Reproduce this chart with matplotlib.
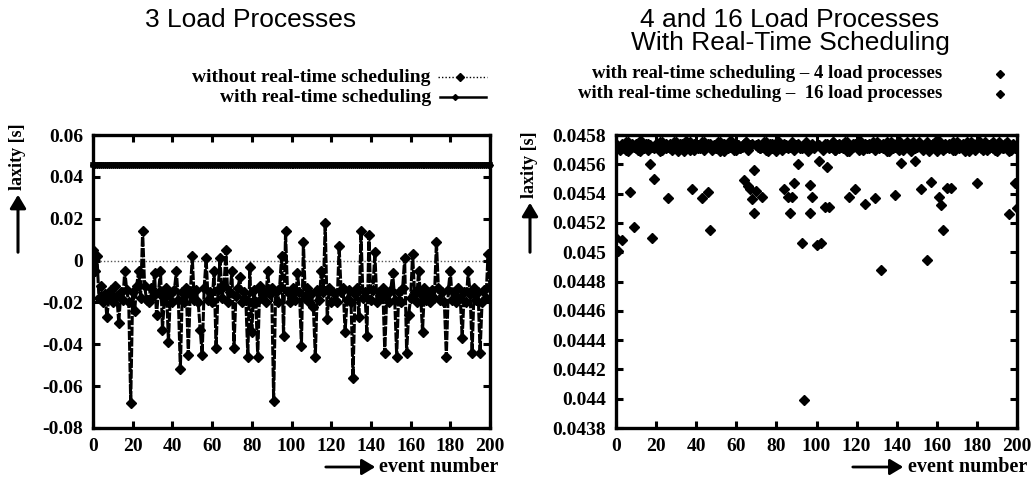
import matplotlib
matplotlib.use("Agg")
import matplotlib.pyplot as plt
from matplotlib.lines import Line2D
from matplotlib.patches import FancyArrowPatch

plt.rcParams['axes.unicode_minus'] = False
plt.rcParams['font.family'] = ['Liberation Serif', 'DejaVu Serif']

# ---------------- data ----------------
events = list(range(201))

# left plot: 3 load processes, without real-time scheduling
no_rt3 = [
    0.005, -0.005, 0.002, -0.018, -0.012, -0.020, -0.016, -0.027, -0.018, -0.014,
    -0.020, -0.012, -0.017, -0.030, -0.015, -0.019, -0.005, -0.014, -0.020, -0.068,
    -0.015, -0.024, -0.012, -0.005, -0.018, 0.014, -0.012, -0.019, -0.020, -0.013,
    -0.017, -0.006, -0.026, -0.015, -0.005, -0.033, -0.018, -0.013, -0.039, -0.016,
    -0.020, -0.014, -0.005, -0.019, -0.052, -0.015, -0.020, -0.013, -0.045, -0.016,
    0.002, -0.019, -0.014, -0.020, -0.033, -0.045, -0.013, 0.001, -0.019, -0.015,
    -0.020, -0.005, -0.042, -0.014, 0.001, -0.018, -0.012, 0.005, -0.020, -0.015,
    -0.005, -0.042, -0.017, -0.013, -0.008, -0.020, -0.015, -0.019, -0.046, -0.003,
    -0.034, -0.014, -0.020, -0.046, -0.012, -0.018, -0.015, -0.020, -0.005, -0.016,
    -0.013, -0.067, -0.015, -0.020, -0.013, 0.002, -0.036, 0.014, -0.015, -0.020,
    -0.018, -0.013, -0.019, -0.006, -0.015, -0.041, 0.009, -0.018, -0.013, -0.020,
    -0.016, -0.022, -0.046, -0.014, -0.019, -0.005, -0.015, 0.018, -0.028, -0.013,
    -0.020, -0.015, -0.019, -0.020, 0.007, -0.015, -0.013, -0.034, -0.019, -0.014,
    -0.020, -0.056, -0.016, -0.013, -0.027, 0.014, -0.018, -0.015, -0.036, 0.012,
    -0.019, -0.014, 0.004, -0.020, -0.015, -0.018, -0.013, -0.044, -0.016, -0.020,
    -0.014, -0.006, -0.019, -0.046, -0.015, -0.020, -0.013, 0.001, -0.044, -0.026,
    -0.018, 0.003, -0.015, -0.020, -0.005, -0.016, -0.034, -0.013, -0.019, -0.015,
    -0.020, -0.014, -0.018, 0.009, -0.013, -0.019, -0.015, -0.020, -0.046, -0.014,
    -0.005, -0.019, -0.015, -0.020, -0.013, -0.018, -0.037, -0.015, -0.020, -0.005,
    -0.016, -0.044, -0.013, -0.019, -0.015, -0.044, -0.020, -0.014, -0.018, 0.003,
    -0.013,
]

# left plot: 3 load processes, with real-time scheduling
rt3 = [
    0.04572, 0.04574, 0.04571, 0.04573, 0.04575, 0.04572, 0.04570, 0.04574, 0.04573, 0.04571,
    0.04572, 0.04575, 0.04573, 0.04570, 0.04574, 0.04572, 0.04571, 0.04573, 0.04575, 0.04572,
    0.04574, 0.04571, 0.04572, 0.04573, 0.04570, 0.04574, 0.04572, 0.04575, 0.04571, 0.04573,
    0.04572, 0.04574, 0.04573, 0.04571, 0.04572, 0.04575, 0.04570, 0.04573, 0.04574, 0.04572,
    0.04571, 0.04573, 0.04575, 0.04572, 0.04574, 0.04570, 0.04572, 0.04573, 0.04571, 0.04574,
    0.04572, 0.04575, 0.04573, 0.04571, 0.04572, 0.04574, 0.04570, 0.04573, 0.04572, 0.04575,
    0.04571, 0.04574, 0.04572, 0.04573, 0.04570, 0.04572, 0.04575, 0.04571, 0.04573, 0.04574,
    0.04572, 0.04571, 0.04573, 0.04575, 0.04572, 0.04570, 0.04574, 0.04573, 0.04571, 0.04572,
    0.04575, 0.04573, 0.04572, 0.04574, 0.04570, 0.04571, 0.04573, 0.04572, 0.04575, 0.04574,
    0.04572, 0.04571, 0.04573, 0.04570, 0.04572, 0.04574, 0.04575, 0.04573, 0.04571, 0.04572,
    0.04574, 0.04572, 0.04571, 0.04573, 0.04575, 0.04572, 0.04570, 0.04574, 0.04573, 0.04571,
    0.04572, 0.04575, 0.04573, 0.04570, 0.04574, 0.04572, 0.04571, 0.04573, 0.04575, 0.04572,
    0.04574, 0.04571, 0.04572, 0.04573, 0.04570, 0.04574, 0.04572, 0.04575, 0.04571, 0.04573,
    0.04572, 0.04574, 0.04573, 0.04571, 0.04572, 0.04575, 0.04570, 0.04573, 0.04574, 0.04572,
    0.04571, 0.04573, 0.04575, 0.04572, 0.04574, 0.04570, 0.04572, 0.04573, 0.04571, 0.04574,
    0.04572, 0.04575, 0.04573, 0.04571, 0.04572, 0.04574, 0.04570, 0.04573, 0.04572, 0.04575,
    0.04571, 0.04574, 0.04572, 0.04573, 0.04570, 0.04572, 0.04575, 0.04571, 0.04573, 0.04574,
    0.04572, 0.04571, 0.04573, 0.04575, 0.04572, 0.04570, 0.04574, 0.04573, 0.04571, 0.04572,
    0.04575, 0.04573, 0.04572, 0.04574, 0.04570, 0.04571, 0.04573, 0.04572, 0.04575, 0.04574,
    0.04572, 0.04571, 0.04573, 0.04570, 0.04572, 0.04574, 0.04575, 0.04573, 0.04571, 0.04572,
    0.04573,
]

# right plot: with real-time scheduling, 4 load processes
rt4 = [
    0.04510, 0.04572, 0.04570, 0.04574, 0.04571, 0.04575, 0.04569, 0.04541, 0.04573, 0.04572,
    0.04574, 0.04570, 0.04576, 0.04572, 0.04571, 0.04573, 0.04574, 0.04560, 0.04572, 0.04550,
    0.04573, 0.04571, 0.04575, 0.04570, 0.04572, 0.04574, 0.04537, 0.04571, 0.04573, 0.04575,
    0.04572, 0.04569, 0.04574, 0.04573, 0.04571, 0.04576, 0.04572, 0.04570, 0.04543, 0.04574,
    0.04573, 0.04571, 0.04572, 0.04575, 0.04570, 0.04573, 0.04574, 0.04515, 0.04572, 0.04571,
    0.04573, 0.04575, 0.04569, 0.04572, 0.04574, 0.04571, 0.04573, 0.04576, 0.04572, 0.04570,
    0.04574, 0.04573, 0.04571, 0.04572, 0.04549, 0.04575, 0.04570, 0.04573, 0.04574, 0.04556,
    0.04542, 0.04572, 0.04571, 0.04538, 0.04573, 0.04575, 0.04569, 0.04572, 0.04574, 0.04571,
    0.04573, 0.04576, 0.04572, 0.04570, 0.04574, 0.04573, 0.04571, 0.04572, 0.04575, 0.04547,
    0.04573, 0.04574, 0.04572, 0.04571, 0.04573, 0.04575, 0.04569, 0.04546, 0.04574, 0.04571,
    0.04573, 0.04562, 0.04572, 0.04570, 0.04574, 0.04558, 0.04571, 0.04572, 0.04575, 0.04570,
    0.04573, 0.04574, 0.04572, 0.04571, 0.04573, 0.04575, 0.04569, 0.04572, 0.04574, 0.04543,
    0.04573, 0.04576, 0.04572, 0.04570, 0.04574, 0.04573, 0.04571, 0.04572, 0.04575, 0.04537,
    0.04573, 0.04574, 0.04572, 0.04571, 0.04573, 0.04575, 0.04569, 0.04572, 0.04574, 0.04539,
    0.04573, 0.04576, 0.04572, 0.04570, 0.04574, 0.04573, 0.04571, 0.04572, 0.04575, 0.04562,
    0.04573, 0.04574, 0.04572, 0.04571, 0.04573, 0.04575, 0.04569, 0.04548, 0.04574, 0.04571,
    0.04573, 0.04576, 0.04572, 0.04570, 0.04574, 0.04544, 0.04571, 0.04572, 0.04575, 0.04570,
    0.04573, 0.04574, 0.04572, 0.04571, 0.04573, 0.04575, 0.04569, 0.04572, 0.04574, 0.04571,
    0.04547, 0.04576, 0.04572, 0.04570, 0.04574, 0.04573, 0.04571, 0.04572, 0.04575, 0.04570,
    0.04573, 0.04574, 0.04572, 0.04571, 0.04573, 0.04575, 0.04569, 0.04572, 0.04574, 0.04547,
    0.04573,
]

# right plot: with real-time scheduling, 16 load processes
rt16 = [
    0.04574, 0.04501, 0.04571, 0.04508, 0.04573, 0.04570, 0.04575, 0.04572, 0.04574, 0.04517,
    0.04571, 0.04573, 0.04569, 0.04575, 0.04572, 0.04574, 0.04570, 0.04573, 0.04510, 0.04571,
    0.04574, 0.04572, 0.04569, 0.04575, 0.04573, 0.04571, 0.04572, 0.04574, 0.04570, 0.04573,
    0.04575, 0.04571, 0.04572, 0.04574, 0.04569, 0.04573, 0.04571, 0.04575, 0.04572, 0.04570,
    0.04574, 0.04573, 0.04571, 0.04537, 0.04575, 0.04572, 0.04541, 0.04574, 0.04570, 0.04573,
    0.04571, 0.04572, 0.04575, 0.04574, 0.04569, 0.04573, 0.04571, 0.04572, 0.04575, 0.04574,
    0.04570, 0.04573, 0.04571, 0.04572, 0.04574, 0.04575, 0.04545, 0.04543, 0.04536, 0.04527,
    0.04573, 0.04574, 0.04571, 0.04572, 0.04575, 0.04570, 0.04573, 0.04574, 0.04571, 0.04572,
    0.04569, 0.04575, 0.04573, 0.04571, 0.04543, 0.04572, 0.04538, 0.04527, 0.04538, 0.04570,
    0.04573, 0.04560, 0.04571, 0.04506, 0.04399, 0.04574, 0.04571, 0.04527, 0.04538, 0.04572,
    0.04505, 0.04573, 0.04506, 0.04571, 0.04531, 0.04574, 0.04531, 0.04572, 0.04575, 0.04570,
    0.04573, 0.04571, 0.04572, 0.04574, 0.04575, 0.04569, 0.04538, 0.04571, 0.04572, 0.04574,
    0.04573, 0.04570, 0.04575, 0.04572, 0.04533, 0.04571, 0.04574, 0.04573, 0.04572, 0.04570,
    0.04575, 0.04571, 0.04488, 0.04574, 0.04572, 0.04569, 0.04573, 0.04575, 0.04571, 0.04572,
    0.04574, 0.04570, 0.04561, 0.04571, 0.04572, 0.04575, 0.04574, 0.04569, 0.04573, 0.04571,
    0.04572, 0.04575, 0.04543, 0.04570, 0.04573, 0.04495, 0.04571, 0.04572, 0.04574, 0.04575,
    0.04569, 0.04538, 0.04532, 0.04515, 0.04571, 0.04572, 0.04574, 0.04544, 0.04570, 0.04573,
    0.04575, 0.04571, 0.04572, 0.04574, 0.04569, 0.04573, 0.04571, 0.04575, 0.04572, 0.04570,
    0.04574, 0.04573, 0.04571, 0.04572, 0.04575, 0.04570, 0.04573, 0.04574, 0.04571, 0.04572,
    0.04569, 0.04575, 0.04573, 0.04571, 0.04574, 0.04572, 0.04526, 0.04570, 0.04573, 0.04571,
    0.04530,
]

x_ticks = [0, 20, 40, 60, 80, 100, 120, 140, 160, 180, 200]
left_yticks = [-0.08, -0.06, -0.04, -0.02, 0, 0.02, 0.04, 0.06]
left_ylabels = ["-0.08", "-0.06", "-0.04", "-0.02", "0", "0.02", "0.04", "0.06"]
right_yticks = [0.0438, 0.0440, 0.0442, 0.0444, 0.0446, 0.0448, 0.0450,
                0.0452, 0.0454, 0.0456, 0.0458]
right_ylabels = ["0.0438", "0.044", "0.0442", "0.0444", "0.0446", "0.0448",
                 "0.045", "0.0452", "0.0454", "0.0456", "0.0458"]

# ---------------- figure ----------------
W, H = 1033, 482
fig = plt.figure(figsize=(W / 100, H / 100), dpi=100)


def fx(x):
    return x / W


def fy(y):
    return 1 - y / H


def px_axes(x0, y0, x1, y1):
    return fig.add_axes([fx(x0), fy(y1), (x1 - x0) / W, (y1 - y0) / H])


axL = px_axes(93, 135, 490, 428)
axR = px_axes(616, 135, 1017, 428)

tick_font = dict(family=['Liberation Serif'], weight='bold', size=14)

for ax in (axL, axR):
    for s in ax.spines.values():
        s.set_linewidth(2.4)
    ax.tick_params(direction='in', length=5, width=2.2, top=True, right=True,
                   pad=7)
    ax.set_xlim(0, 200)
    ax.set_xticks(x_ticks)
    ax.set_xticklabels([str(t) for t in x_ticks], **tick_font)

# Left plot
axL.set_ylim(-0.08, 0.06)
axL.set_yticks(left_yticks)
axL.set_yticklabels(left_ylabels, **tick_font)
axL.axhline(0, color='#555555', ls=(0, (1, 1.5)), lw=1.0, zorder=1)
axL.plot(events, no_rt3, color='black', ls=(0, (3, 0.5)), lw=2.2,
         marker='D', ms=5.5, zorder=3)
axL.plot(events, rt3, color='black', ls='-', lw=4.0, marker='D', ms=3,
         zorder=3, clip_on=False)

# Right plot
axR.set_ylim(0.0438, 0.0458)
axR.set_yticks(right_yticks)
axR.set_yticklabels(right_ylabels, **tick_font)
axR.plot(events, rt4, ls='none', marker='D', ms=5.5, color='black', zorder=3)
axR.plot(events, rt16, ls='none', marker='D', ms=5.5, color='black', zorder=3)

# Titles
title_font = dict(family=['Liberation Sans'], size=19, ha='center', va='top')
fig.text(fx(251), fy(8), "3 Load Processes", **title_font)
fig.text(fx(790), fy(8), "4 and 16 Load Processes\nWith Real-Time Scheduling",
         linespacing=0.95, **title_font)

# Legends (gnuplot-style keys)
leg_font = dict(family=['Liberation Serif'], weight='bold', ha='right',
                va='center')
fig.text(fx(431), fy(77), "without real-time scheduling", size=14, **leg_font)
fig.text(fx(431), fy(97), "with real-time scheduling", size=14, **leg_font)
fig.add_artist(Line2D([fx(438), fx(487)], [fy(77), fy(77)], color='black',
                      ls=(0, (1, 1.5)), lw=1.0))
fig.add_artist(Line2D([fx(460)], [fy(77)], color='black', marker='D', ms=4))
fig.add_artist(Line2D([fx(440), fx(486)], [fy(97), fy(97)], color='black',
                      ls='-', lw=1.8))
fig.add_artist(Line2D([fx(455)], [fy(97)], color='black', marker='D', ms=3))

fig.text(fx(942), fy(74), "with real-time scheduling \u2013 4 load processes",
         size=13.5, **leg_font)
fig.text(fx(942), fy(94), "with real-time scheduling \u2013  16 load processes",
         size=13.5, **leg_font)
fig.add_artist(Line2D([fx(1000)], [fy(74)], color='black', marker='D', ms=4,
                      ls='none'))
fig.add_artist(Line2D([fx(1000)], [fy(94)], color='black', marker='D', ms=4,
                      ls='none'))

# Axis labels with arrows
lab_font = dict(family=['Liberation Serif'], weight='bold', size=13)
for xl, ytop, ybot in ((18, 190, 255), (530, 198, 255)):
    fig.text(fx(xl), fy(ytop), "laxity [s]", rotation=90, ha='center',
             va='bottom', **lab_font)
    fig.add_artist(FancyArrowPatch(
        (fx(xl), fy(ybot)), (fx(xl), fy(ytop + 2)), transform=fig.transFigure,
        arrowstyle='-|>,head_length=5,head_width=3', lw=2.2, color='black',
        mutation_scale=1.6))

for x_end, a0, a1 in ((498, 323, 378), (1027, 850, 906)):
    fig.text(fx(x_end), fy(467), "event number", ha='right', va='center',
             family=['Liberation Serif'], weight='bold', size=14.5)
    fig.add_artist(FancyArrowPatch(
        (fx(a0), fy(467)), (fx(a1), fy(467)), transform=fig.transFigure,
        arrowstyle='-|>,head_length=5,head_width=3', lw=2.0, color='black',
        mutation_scale=1.6))

fig.savefig("out.png", dpi=100)
